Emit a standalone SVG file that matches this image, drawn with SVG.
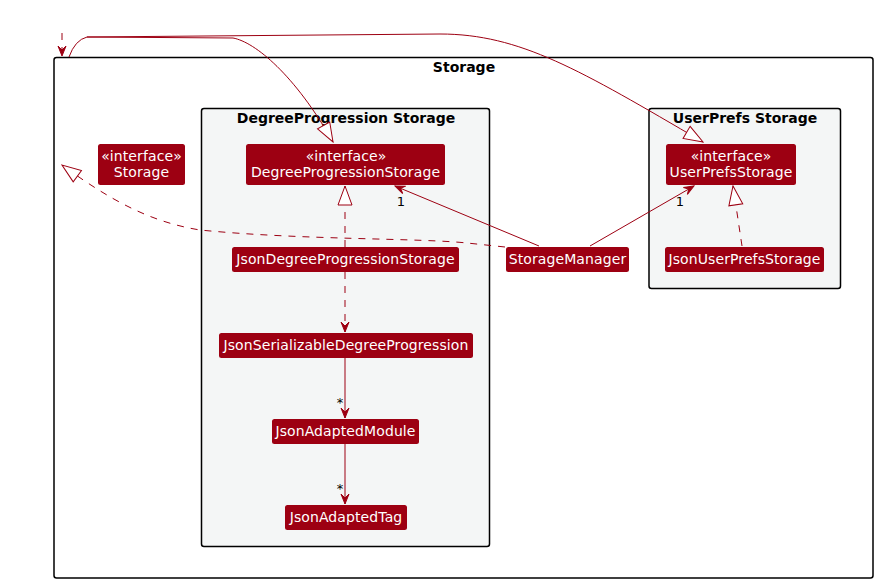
<svg xmlns="http://www.w3.org/2000/svg" width="877" height="583" viewBox="0 0 877 583">
<style>
.pkg{stroke:#000;stroke-width:1.5}
.ptitle{font-family:"DejaVu Sans",sans-serif;font-size:14px;font-weight:bold;fill:#000;text-anchor:middle}
.node rect{fill:#9D0012}
.node text{font-family:"DejaVu Sans",sans-serif;font-size:14px;letter-spacing:0.1px;fill:#fff;text-anchor:middle}
.ln{fill:none;stroke:#9D0012;stroke-width:1}
.dash{stroke-dasharray:7,7}
.lbl{font-family:"DejaVu Sans",sans-serif;font-size:13px;fill:#000;text-anchor:middle}
</style>
<defs>
<marker id="arr" viewBox="0 0 12 12" refX="11" refY="6" markerWidth="12" markerHeight="12" markerUnits="userSpaceOnUse" orient="auto">
<path d="M1,2 L11,6 L1,10 L5,6 Z" fill="#9D0012" stroke="#9D0012" stroke-width="1"/>
</marker>
<marker id="tri" viewBox="0 0 21 16" refX="20" refY="8" markerWidth="21" markerHeight="16" markerUnits="userSpaceOnUse" orient="auto">
<path d="M1,1 L20,8 L1,15 Z" fill="#fff" stroke="#9D0012" stroke-width="1"/>
</marker>
</defs>
<rect width="877" height="583" fill="#fff"/>
<g id="pkg-storage">
<rect class="pkg" x="54" y="57.5" width="819" height="520.5" rx="2.5" fill="#fff"/>
<text class="ptitle" x="464" y="72">Storage</text>
</g>
<g id="pkg-degree">
<rect class="pkg" x="201.5" y="108.5" width="288" height="438" rx="2.5" fill="#F4F6F6"/>
<text class="ptitle" x="346" y="123">DegreeProgression Storage</text>
</g>
<g id="pkg-userprefs">
<rect class="pkg" x="649" y="108.5" width="191.5" height="180" rx="2.5" fill="#F4F6F6"/>
<text class="ptitle" x="745" y="123">UserPrefs Storage</text>
</g>
<g id="connectors">
<path class="ln dash" d="M62 33 L62 56" marker-end="url(#arr)"/>
<path class="ln" d="M69 57 Q75 40 87 37 L233 38 C255 42 295 75 333 142" marker-end="url(#tri)"/>
<path class="ln" d="M87 37 L440 34 C520 34 580 70 703 142" marker-end="url(#tri)"/>
<path class="ln dash" d="M505 247 L467 243 C420 238 300 240 200 230 C150 222 110 200 62 165" marker-end="url(#tri)"/>
<path class="ln" d="M539 246 L395 186" marker-end="url(#arr)"/>
<path class="ln" d="M590 246 L694 186" marker-end="url(#arr)"/>
<path class="ln dash" d="M742 246 L733 186" marker-end="url(#tri)"/>
<path class="ln dash" d="M345 247 L345 186" marker-end="url(#tri)"/>
<path class="ln dash" d="M345 272 L345 332" marker-end="url(#arr)"/>
<path class="ln" d="M345 358 L345 418" marker-end="url(#arr)"/>
<path class="ln" d="M345 444 L345 504" marker-end="url(#arr)"/>
<text class="lbl" x="401" y="206">1</text>
<text class="lbl" x="680" y="206">1</text>
<text class="lbl" x="340" y="407">*</text>
<text class="lbl" x="340" y="493">*</text>
</g>
<g id="Storage" class="node">
<rect x="98" y="144" width="87" height="41" rx="2.5"/>
<text x="141.5" y="161">«interface»</text>
<text x="141.5" y="177">Storage</text>
</g>
<g id="DegreeProgressionStorage" class="node">
<rect x="246" y="144" width="199" height="41" rx="2.5"/>
<text x="346" y="161">«interface»</text>
<text x="345.5" y="177">DegreeProgressionStorage</text>
</g>
<g id="UserPrefsStorage" class="node">
<rect x="666" y="144" width="130" height="41" rx="2.5"/>
<text x="731" y="161">«interface»</text>
<text x="731" y="177">UserPrefsStorage</text>
</g>
<g id="JsonDegreeProgressionStorage" class="node">
<rect x="232" y="247" width="227" height="25" rx="2.5"/>
<text x="345.5" y="264">JsonDegreeProgressionStorage</text>
</g>
<g id="StorageManager" class="node">
<rect x="506" y="247" width="123" height="25" rx="2.5"/>
<text x="567.5" y="264">StorageManager</text>
</g>
<g id="JsonUserPrefsStorage" class="node">
<rect x="665" y="247" width="159" height="25" rx="2.5"/>
<text x="744.5" y="264">JsonUserPrefsStorage</text>
</g>
<g id="JsonSerializableDegreeProgression" class="node">
<rect x="219" y="333" width="254" height="25" rx="2.5"/>
<text x="346" y="350">JsonSerializableDegreeProgression</text>
</g>
<g id="JsonAdaptedModule" class="node">
<rect x="272" y="419" width="147" height="25" rx="2.5"/>
<text x="345.5" y="436">JsonAdaptedModule</text>
</g>
<g id="JsonAdaptedTag" class="node">
<rect x="285" y="505" width="122" height="25" rx="2.5"/>
<text x="346" y="522">JsonAdaptedTag</text>
</g>
</svg>
